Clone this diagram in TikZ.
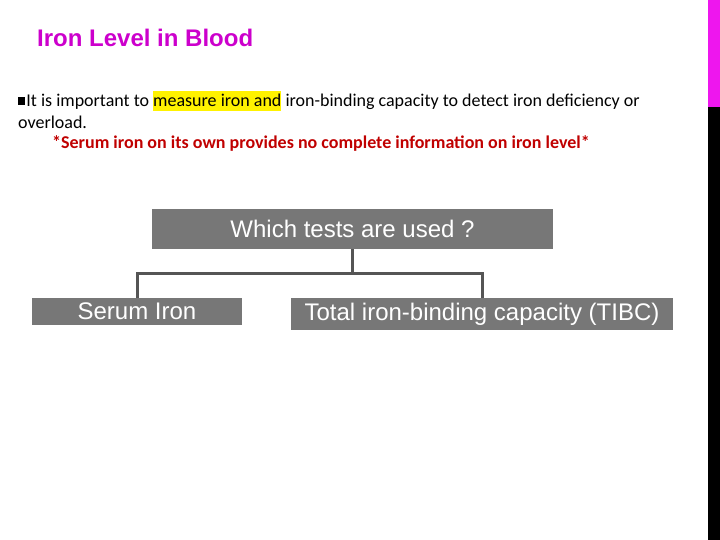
\documentclass[tikz,border=0pt]{standalone}
\usepackage{fontspec}
\setmainfont{Carlito}
\newfontfamily\arialfont{Liberation Sans}
\usetikzlibrary{positioning}
\definecolor{titlemag}{RGB}{204,0,204}
\definecolor{barmag}{RGB}{238,22,238}
\definecolor{boxgray}{RGB}{119,119,119}
\definecolor{linegray}{RGB}{85,85,85}
\definecolor{darkred}{RGB}{192,0,0}
\tikzset{
    testbox/.style = {fill=boxgray,text=white,font=\arialfont\fontsize{24}{28}\selectfont,inner sep=0pt},
    branch/.style = {draw=linegray,line width=3pt},
    bodytext/.style = {anchor=west,inner sep=0pt,font=\fontsize{18}{22}\selectfont}}
\begin{document}
\begin{tikzpicture}[x=1pt,y=-1pt]
    \useasboundingbox (0,0) rectangle (720,540);
    \fill[barmag] (708,0) rectangle (720,107);
    \fill[black] (708,107) rectangle (720,540);
    \node[anchor=west,inner sep=0pt,text=titlemag,font=\arialfont\bfseries\fontsize{24}{28}\selectfont] (title) at (37,38) {Iron Level in Blood};
    \node[bodytext] (line1) at (18,101) {\rule[0.1em]{0.4em}{0.4em}\hspace{1pt}It is important to \setlength{\fboxsep}{0pt}\colorbox{yellow}{\rule[-0.25em]{0pt}{1.1em}measure iron and} iron-binding capacity to detect iron deficiency or};
    \node[bodytext] (line2) at (18,122) {overload.};
    \node[bodytext,text=darkred,font=\bfseries\fontsize{18}{22}\selectfont] (line3) at (52,143) {*Serum iron on its own provides no complete information on iron level*};
    \node[testbox,minimum width=401,minimum height=40] (tests) at (352.5,229) {Which tests are used ?};
    \node[testbox,minimum width=210,minimum height=27] (serum) at (137,311.5) {Serum Iron};
    \node[testbox,minimum width=382,minimum height=32] (tibc) at (482,314) {Total iron-binding capacity (TIBC)};
    \draw[branch] (tests.south) -- ++(0,24) -| (serum.north);
    \draw[branch] (tests.south) ++(0,24) -| (tibc.north);
\end{tikzpicture}
\end{document}
